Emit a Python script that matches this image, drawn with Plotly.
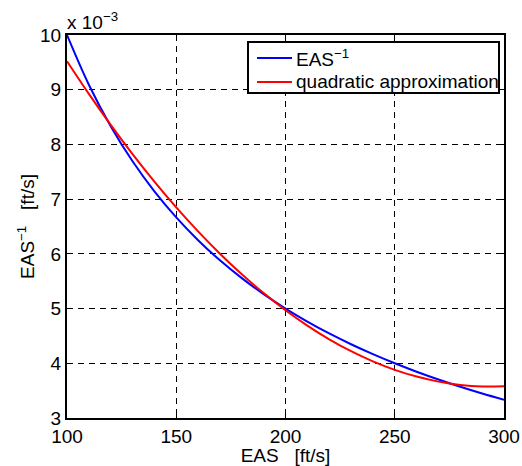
import plotly.graph_objects as go

# Equivalent airspeed samples [ft/s]
eas = [100, 110, 120, 130, 140, 150, 160, 170, 180, 190, 200,
       210, 220, 230, 240, 250, 260, 270, 280, 290, 300]

# Inverse EAS, in units of 1e-3
eas_inv = [10.000, 9.091, 8.333, 7.692, 7.143, 6.667, 6.250, 5.882, 5.556, 5.263, 5.000,
           4.762, 4.545, 4.348, 4.167, 4.000, 3.846, 3.704, 3.571, 3.448, 3.333]

# Quadratic approximation of the inverse, in units of 1e-3
quad_approx = [9.520, 8.923, 8.357, 7.823, 7.321, 6.850, 6.411, 6.003, 5.627, 5.283, 4.970,
               4.689, 4.439, 4.221, 4.035, 3.880, 3.757, 3.665, 3.605, 3.577, 3.580]

x_ticks = [100, 150, 200, 250, 300]
y_ticks = [3, 4, 5, 6, 7, 8, 9, 10]

series_names = ["EAS<sup>\u22121</sup>", "quadratic approximation"]
series_colors = ["rgb(0,0,255)", "rgb(255,0,0)"]

FONT = "Liberation Sans, Arial, Helvetica, sans-serif"
FS = 19
NB = "\u00a0"

W, H = 522, 466
ML, MR, MT, MB = 67, 18, 35, 48
PW, PH = W - ML - MR, H - MT - MB


def px_x(p):
    return (p - ML) / PW


def px_y(p):
    return (H - MB - p) / PH


fig = go.Figure()
for yv, name, col in zip([eas_inv, quad_approx], series_names, series_colors):
    fig.add_trace(go.Scatter(x=eas, y=yv, mode="lines", line_shape="spline",
                             name=name, showlegend=False,
                             line=dict(color=col, width=2)))

axis_common = dict(
    showline=True, linecolor="black", linewidth=2, mirror="ticks",
    ticks="inside", ticklen=5, tickcolor="black", tickwidth=1,
    showgrid=True, gridcolor="black", gridwidth=1, griddash="6px,5px",
    zeroline=False, automargin=False,
    tickfont=dict(family=FONT, size=FS, color="black"),
)

fig.update_xaxes(range=[100, 300], tickvals=x_ticks,
                 ticktext=[str(v) for v in x_ticks],
                 title=dict(text="EAS" + NB * 3 + "[ft/s]",
                            font=dict(family=FONT, size=FS, color="black"),
                            standoff=0),
                 **axis_common)
fig.update_yaxes(range=[3, 10], tickvals=y_ticks,
                 ticktext=[str(v) for v in y_ticks],
                 title=dict(text="EAS<sup>\u22121</sup>" + NB * 3 + "[ft/s]",
                            font=dict(family=FONT, size=FS, color="black"),
                            standoff=0),
                 **axis_common)

fig.add_annotation(text="x 10<sup>\u22123</sup>", xref="paper", yref="paper",
                   x=0, y=1.0, xanchor="left", yanchor="bottom", showarrow=False,
                   xshift=-2, font=dict(family=FONT, size=FS, color="black"))

# Legend box drawn in paper coordinates
fig.add_shape(type="rect", xref="paper", yref="paper",
              x0=px_x(248), x1=px_x(499), y0=px_y(93), y1=px_y(42),
              fillcolor="white", line=dict(color="black", width=2), layer="above")
for row_y, name, col in zip([58, 82], series_names, series_colors):
    fig.add_shape(type="line", xref="paper", yref="paper",
                  x0=px_x(257), x1=px_x(292), y0=px_y(row_y), y1=px_y(row_y),
                  line=dict(color=col, width=2), layer="above")
    fig.add_annotation(text=name, xref="paper", yref="paper",
                       x=px_x(294), y=px_y(row_y), xanchor="left", yanchor="middle",
                       showarrow=False,
                       font=dict(family=FONT, size=FS, color="black"))

fig.update_layout(
    width=W, height=H,
    margin=dict(l=ML, r=MR, t=MT, b=MB),
    paper_bgcolor="white", plot_bgcolor="white",
    font=dict(family=FONT, size=FS, color="black"),
    showlegend=False,
)

fig.write_html("out.html")
